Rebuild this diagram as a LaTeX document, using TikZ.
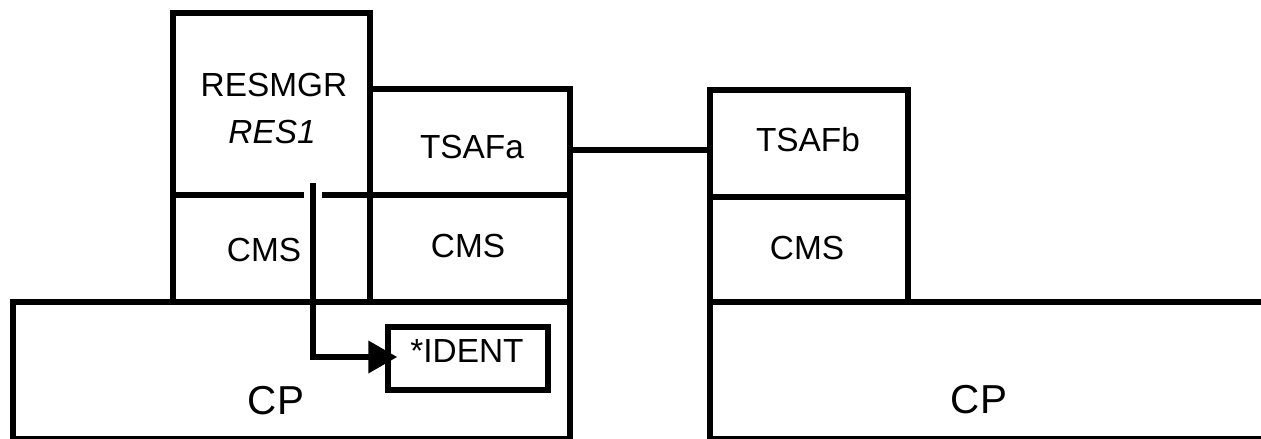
\documentclass[tikz,border=0pt]{standalone}
\usepackage{fontspec}
\setmainfont{Liberation Sans}
\usepackage{tikz}
\usetikzlibrary{arrows.meta,positioning,fit,calc}
\definecolor{vmink}{HTML}{000000}
\tikzstyle{cell} = [rectangle, draw=vmink, line width=3pt, inner sep=0pt]
\tikzstyle{lbl} = [font=\fontsize{19}{23}\selectfont, inner sep=0pt, text=vmink]
\tikzstyle{cplbl} = [font=\fontsize{23}{27}\selectfont, inner sep=0pt, text=vmink]
\tikzstyle{link} = [draw=vmink, line width=3pt]
\tikzstyle{flow} = [-{Triangle[length=0.58cm,width=0.62cm]}, line width=3.8pt, vmink]

\begin{document}
\begin{tikzpicture}[x=0.02cm, y=-0.02cm]
\useasboundingbox (0,0) rectangle (1261,439);

% left system
\node[cell, fit={(13,302) (570,439)}] (cpa) {};
\node[cell, fit={(173,13) (370,195)}] (resmgr) {};
\node[cell, fit={(173,195) (370,302)}] (cmsa) {};
\node[cell, fit={(370,89) (570,195)}] (tsafa) {};
\node[cell, fit={(370,195) (570,302)}] (cmsb) {};
\node[cell, fit={(388,327) (548,390)}] (ident) {};

% right system
\node[cell, fit={(710,302) (1290,439)}] (cpb) {};
\node[cell, fit={(710,90) (908,197)}] (tsafb) {};
\node[cell, fit={(710,197) (908,302)}] (cmsc) {};

% labels
\node[lbl] (resmgrtxt) at (274,85) {RESMGR};
\node[lbl] (restxt) at (272,132) {\itshape RES1};
\node[lbl] (tsafatxt) at (472,147) {TSAFa};
\node[lbl] (tsafbtxt) at (808,140) {TSAFb};
\node[lbl] (cmsatxt) at (264,250) {CMS};
\node[lbl] (cmsbtxt) at (468,246) {CMS};
\node[lbl] (cmsctxt) at (807,248) {CMS};
\node[lbl] (identtxt) at (467,351) {*IDENT};
\node[cplbl] (cpatxt) at (276,401) {CP};
\node[cplbl] (cpbtxt) at (979,400) {CP};

% connectors
\draw[link] ([yshift=-0.16cm]tsafa.east) -- ([yshift=-0.16cm]tsafa.east -| tsafb.west);

\coordinate (tap) at (313,183);
\draw[white, line width=10pt] (tap) -- ++(0,22);
\draw[flow, shorten >=-0.24cm] (tap) |- ([yshift=0.03cm]ident.west);

\end{tikzpicture}
\end{document}
